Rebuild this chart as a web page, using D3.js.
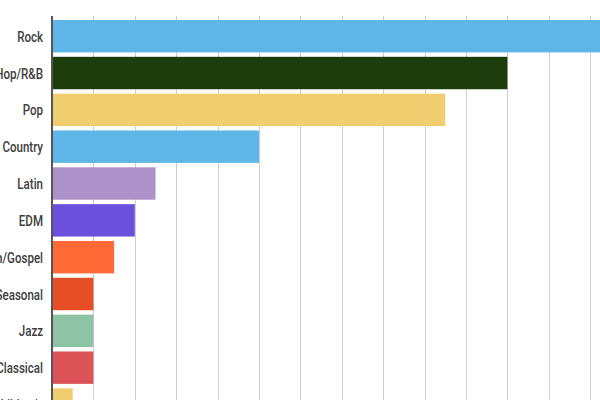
<!DOCTYPE html>
<html>
<head>
<meta charset="utf-8">
<script src="https://cdn.jsdelivr.net/npm/d3@7"></script>
<style>
  body { margin: 0; background: #fff; overflow: hidden; }
  svg { display: block; }
</style>
</head>
<body>
<script>
// genres, top to bottom
const genres = ["Rock", "Hip-Hop/R&B", "Pop", "Country", "Latin", "EDM",
    "Christian/Gospel", "Holiday/Seasonal", "Jazz", "Classical", "Children's"];
// share values
const shares = [15, 11, 9.5, 5, 2.5, 2, 1.5, 1, 1, 1, 0.5];
const colors = ["#5db6e6", "#1d3d0d", "#f0cd6e", "#5db6e6", "#ad91c9", "#6a50dc",
    "#ff6a36", "#e64e25", "#8ec4a5", "#dd5458", "#f0cd6e"];

const data = genres.map((g, i) => ({ genre: g, value: shares[i], color: colors[i] }));

const width = 600, height = 400;
const left = 52;

const x = d3.scaleLinear().domain([0, 14]).range([left, left + 14 * 41.4]);
const y = d3.scaleBand()
    .domain(genres)
    .range([16.3, 424.4])
    .paddingInner(0.12)
    .paddingOuter(0.1);

const svg = d3.select("body").append("svg")
    .attr("width", width)
    .attr("height", height);

// vertical gridlines
svg.append("g")
    .selectAll("line")
    .data(x.ticks(14).filter(d => d > 0))
    .join("line")
      .attr("x1", d => Math.round(x(d)) + 0.5)
      .attr("x2", d => Math.round(x(d)) + 0.5)
      .attr("y1", 16)
      .attr("y2", height)
      .attr("stroke", "#cfcfcf")
      .attr("stroke-width", 1);

// bars
svg.append("g")
    .selectAll("rect")
    .data(data)
    .join("rect")
      .attr("x", x(0))
      .attr("y", d => y(d.genre))
      .attr("width", d => x(d.value) - x(0))
      .attr("height", y.bandwidth())
      .attr("fill", d => d.color);

// category labels (the source font is narrow, so squeeze it)
svg.append("g")
    .selectAll("text")
    .data(data)
    .join("text")
      .attr("transform", d => "translate(" + (left - 9) + "," + (y(d.genre) + y.bandwidth() / 2) + ") scale(0.77,1)")
      .attr("dy", "0.37em")
      .attr("text-anchor", "end")
      .attr("font-family", "Roboto, sans-serif")
      .attr("font-weight", 500)
      .attr("font-size", 15)
      .attr("fill", "#404040")
      .text(d => d.genre);

// y axis line
svg.append("line")
    .attr("x1", left)
    .attr("x2", left)
    .attr("y1", 16)
    .attr("y2", height)
    .attr("stroke", "#555")
    .attr("stroke-width", 2);
</script>
</body>
</html>
